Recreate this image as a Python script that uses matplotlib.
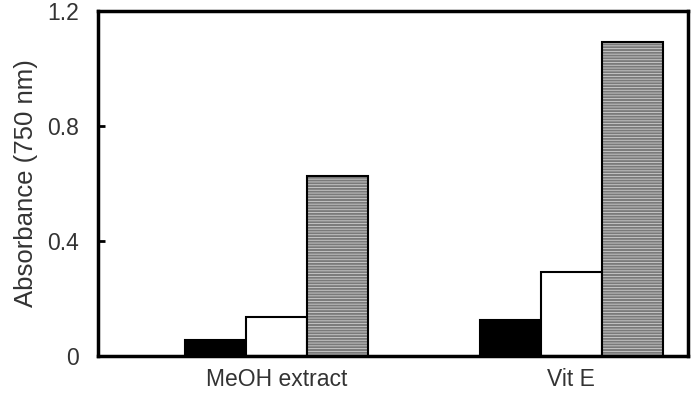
import matplotlib
matplotlib.use("Agg")
import matplotlib.pyplot as plt
import numpy as np

categories = ["MeOH extract", "Vit E"]
series_black = [0.056, 0.125]
series_white = [0.136, 0.292]
series_hatched = [0.626, 1.092]
yticks = [0, 0.4, 0.8, 1.2]
ytick_labels = ["0", "0.4", "0.8", "1.2"]
ylabel = "Absorbance (750 nm)"

plt.rcParams['font.family'] = ['Liberation Sans', 'DejaVu Sans']
plt.rcParams['hatch.linewidth'] = 0.6

fig = plt.figure(figsize=(6.98, 3.94), dpi=100)
ax = fig.add_axes([98/698, 1-356/394, 590/698, 345/394])

x = np.arange(len(categories))
w = 0.207
ax.bar(x - w, series_black, w, color='black', edgecolor='black', linewidth=1.5)
ax.bar(x, series_white, w, color='white', edgecolor='black', linewidth=1.5)
ax.bar(x + w, series_hatched, w, color='#7a7a7a', edgecolor='#d0d0d0', hatch='------', linewidth=0)
ax.bar(x + w, series_hatched, w, fill=False, edgecolor='black', linewidth=1.5)

ax.set_xlim(-0.606, 1.397)
ax.set_ylim(0, 1.2)
ax.set_yticks(yticks)
ax.set_yticklabels(ytick_labels)
ax.set_xticks(x)
ax.set_xticklabels(categories)
ax.tick_params(axis='y', direction='in', length=5, width=2, labelsize=16.5, pad=14, labelcolor='#333333')
ax.tick_params(axis='x', length=0, labelsize=16.5, pad=9, labelcolor='#333333')
ax.set_ylabel(ylabel, fontsize=18.5, color='#333333', labelpad=6)
for s in ax.spines.values():
    s.set_linewidth(2.5)

fig.savefig("out.png", dpi=100)
